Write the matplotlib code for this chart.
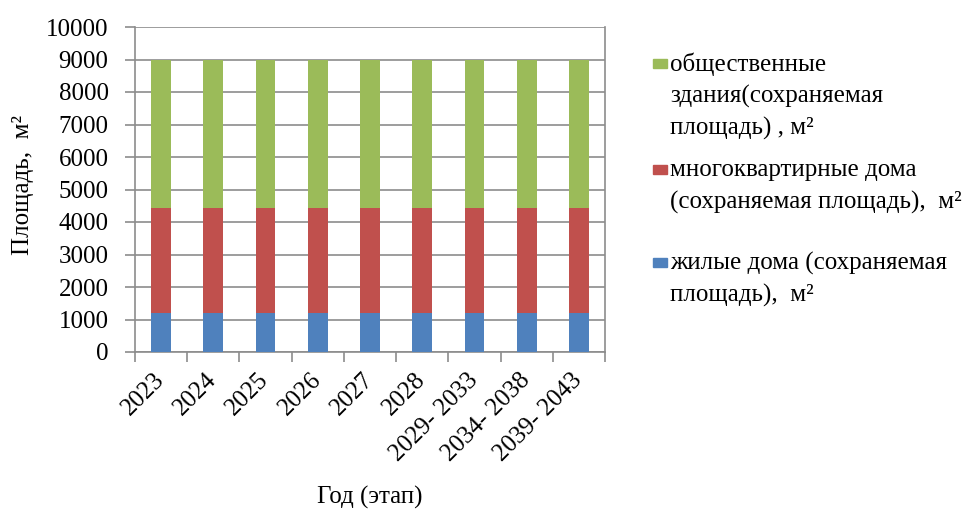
import matplotlib
matplotlib.use("Agg")
import matplotlib.pyplot as plt
import matplotlib.transforms as mtransforms
from matplotlib.patches import Rectangle
import numpy as np

FAM = ['Liberation Serif', 'DejaVu Serif']
plt.rcParams['font.family'] = FAM
FS = 18

categories = ["2023", "2024", "2025", "2026", "2027", "2028",
              "2029- 2033", "2034- 2038", "2039- 2043"]
zhilye = [1190, 1190, 1190, 1190, 1190, 1190, 1190, 1190, 1190]
mkd = [3250, 3250, 3250, 3250, 3250, 3250, 3250, 3250, 3250]
obshch = [4540, 4540, 4540, 4540, 4540, 4540, 4540, 4540, 4540]
series_labels = ["жилые дома (сохраняемая\nплощадь),  м²",
                 "многоквартирные дома\n(сохраняемая площадь),  м²",
                 "общественные\nздания(сохраняемая\nплощадь) , м²"]
colors = ["#4F81BD", "#C0504D", "#9BBB59"]
yticks = [0, 1000, 2000, 3000, 4000, 5000, 6000, 7000, 8000, 9000, 10000]

fig = plt.figure(figsize=(9.79, 5.13), dpi=100)
ax = fig.add_axes([135/979, 1-352/513, 470/979, 325/513])

x = np.arange(len(categories))
w = 0.38
b1 = np.array(zhilye)
b2 = b1 + np.array(mkd)
ax.bar(x, zhilye, w, color=colors[0], zorder=3)
ax.bar(x, mkd, w, bottom=b1, color=colors[1], zorder=3)
ax.bar(x, obshch, w, bottom=b2, color=colors[2], zorder=3)

ax.set_xlim(-0.5, len(categories)-0.5)
ax.set_ylim(0, 10000)
ax.set_yticks(yticks)
ax.set_yticklabels([str(v) for v in yticks], fontsize=FS, family=FAM)
ax.grid(axis='y', color='#8c8c8c', linewidth=1.2, zorder=0)

ax.set_xticks(x)
ax.set_xticklabels(categories, rotation=45, ha='right', rotation_mode='anchor',
                   fontsize=FS, family=FAM)
ax.tick_params(axis='x', length=0, pad=10)
offset = mtransforms.ScaledTranslation(-8/100, -3/100, fig.dpi_scale_trans)
for lbl in ax.get_xticklabels():
    lbl.set_transform(lbl.get_transform() + offset)
ax.set_xticks(np.arange(-0.5, len(categories), 1.0), minor=True)
ax.tick_params(axis='x', which='minor', length=7, width=1.2, color='#8c8c8c')
ax.tick_params(axis='y', length=7, width=1.2, color='#8c8c8c', pad=12)

ax.spines['top'].set_visible(False)
for s in ['left', 'bottom', 'right']:
    ax.spines[s].set_color('#8c8c8c')
    ax.spines[s].set_linewidth(1.2)

fig.text(23/979, 1-185/513, "Площадь,  м²", rotation=90, ha='center', va='center',
         fontsize=FS, family=FAM)
fig.text(370/979, 1-497/513, "Год (этап)", ha='center', va='center', fontsize=FS, family=FAM)

# legend (reverse order: green, red, blue)
entry_tops = [263, 170, 64]
line_step = 32
for i in [2, 1, 0]:
    y0 = entry_tops[i]
    fig.patches.append(Rectangle((653/979, 1-(y0+4)/513), 14/979, 9/513,
                                 transform=fig.transFigure, color=colors[i]))
    for j, line in enumerate(series_labels[i].split("\n")):
        fig.text(670/979, 1-(y0 + j*line_step)/513, line, ha='left', va='center',
                 fontsize=FS, family=FAM)

fig.savefig("out.png", dpi=100)
